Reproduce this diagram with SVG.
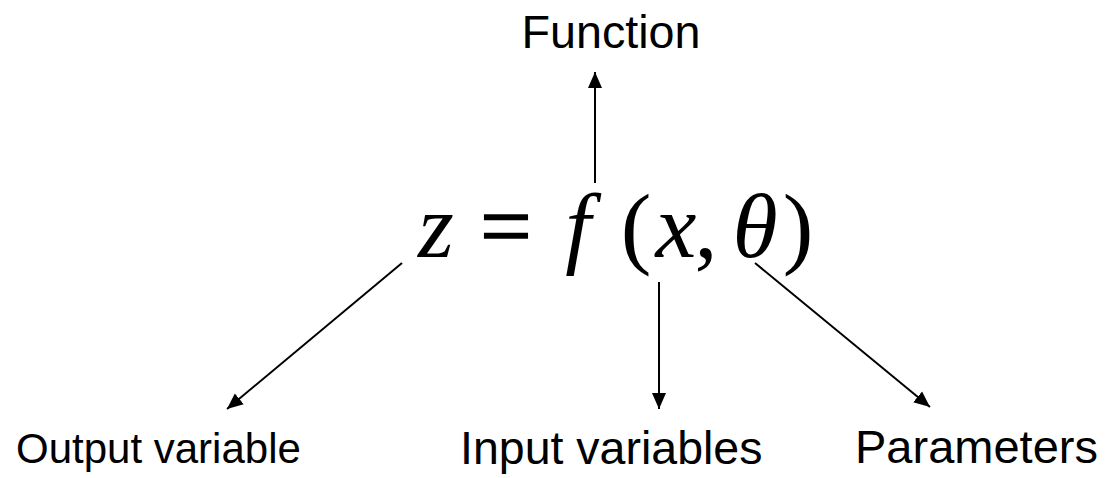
<svg xmlns="http://www.w3.org/2000/svg" width="1109" height="478" viewBox="0 0 1109 478">
<style>
.lbl{font-family:"Liberation Sans",Arial,sans-serif;fill:#000}
.eq{font-family:"Liberation Serif","Times New Roman",serif;font-size:92px;fill:#000;text-anchor:middle}
.it{font-style:italic}
.conn line{stroke:#000;stroke-width:2;fill:none}
</style>
<defs>
<marker id="ah" markerUnits="userSpaceOnUse" markerWidth="16" markerHeight="16" viewBox="0 0 16 16" refX="16" refY="8" orient="auto">
<path d="M0,1 L16,8 L0,15 Z" fill="#000"/>
</marker>
</defs>
<g id="formula">
<text class="eq it" x="436" y="257">z</text>
<text class="eq" x="506" y="257" stroke="#000" stroke-width="1.3">=</text>
<text class="eq it" x="578" y="257">f</text>
<text class="eq" x="636" y="257">(</text>
<text class="eq it" x="676" y="257">x</text>
<text class="eq" x="706" y="257">,</text>
<text class="eq it" x="755" y="257">θ</text>
<text class="eq" x="798" y="257">)</text>
</g>
<g id="function"><text class="lbl" x="611" y="48" font-size="46.7" text-anchor="middle">Function</text></g>
<g id="output"><text class="lbl" x="16" y="463" font-size="42">Output variable</text></g>
<g id="input"><text class="lbl" x="460" y="464" font-size="46.5">Input variables</text></g>
<g id="parameters"><text class="lbl" x="855" y="463" font-size="47">Parameters</text></g>
<g class="conn" id="connectors">
<line x1="595" y1="183" x2="595" y2="72" marker-end="url(#ah)"/>
<line x1="402" y1="263" x2="227" y2="409" marker-end="url(#ah)"/>
<line x1="659" y1="282" x2="659" y2="409" marker-end="url(#ah)"/>
<line x1="755" y1="263" x2="930" y2="407" marker-end="url(#ah)"/>
</g>
</svg>
